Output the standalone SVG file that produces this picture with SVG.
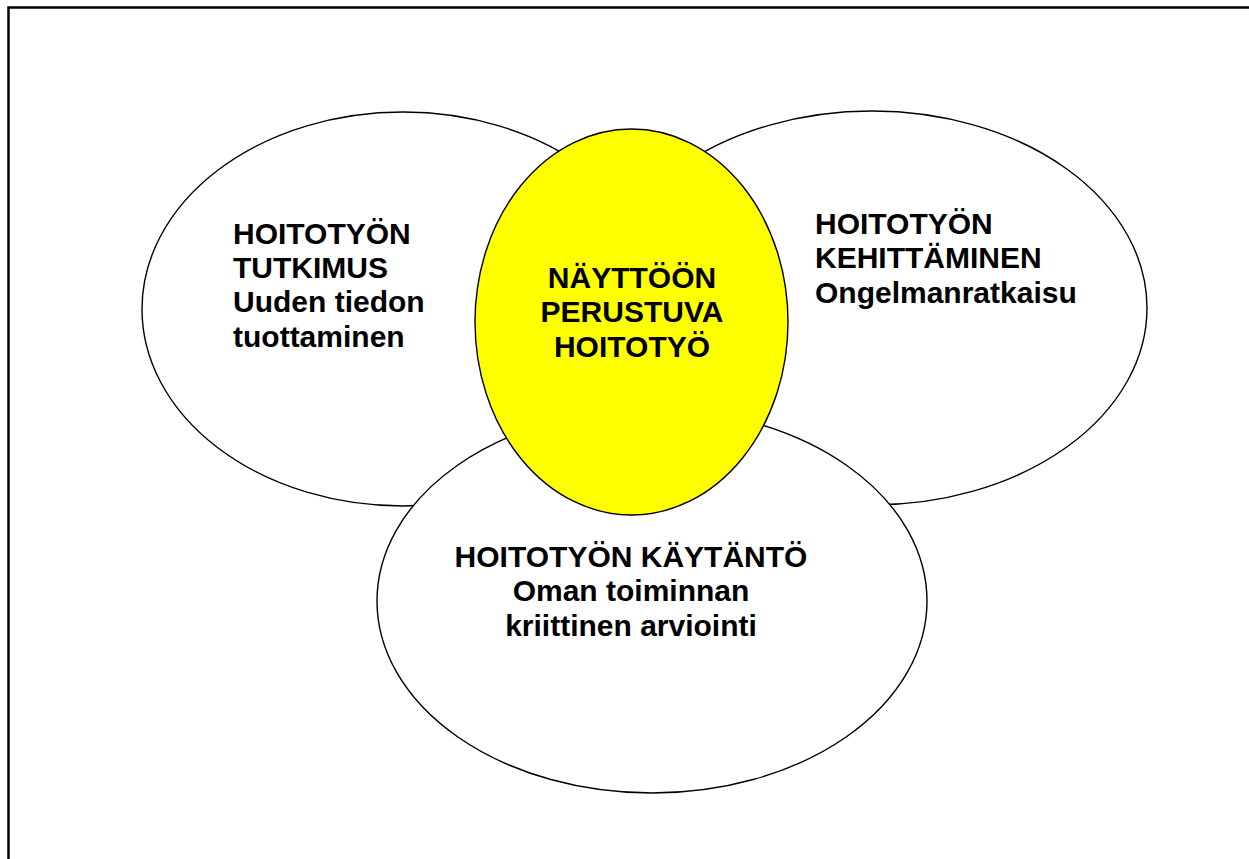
<svg xmlns="http://www.w3.org/2000/svg" width="1249" height="859" viewBox="0 0 1249 859">
<style>
.bg{fill:#ffffff}
.frame{fill:none;stroke:#000;stroke-width:2.5}
.el{fill:#ffffff;stroke:#000;stroke-width:1.4}
.core{fill:#ffff00;stroke:#000;stroke-width:1.4}
text{font-family:"Liberation Sans",Arial,sans-serif;font-weight:bold;font-size:30px;fill:#000}
.c{text-anchor:middle}
</style>
<rect class="bg" x="0" y="0" width="1249" height="859"/>
<path class="frame" d="M8.5 870 V7.5 H1260"/>
<g id="tutkimus">
<ellipse class="el" cx="403" cy="309" rx="261" ry="197"/>
<text x="233" y="244">HOITOTYÖN</text>
<text x="233" y="278">TUTKIMUS</text>
<text x="233" y="312">Uuden tiedon</text>
<text x="233" y="347">tuottaminen</text>
</g>
<g id="kehittaminen">
<ellipse class="el" cx="872" cy="308" rx="275" ry="197"/>
<text x="815" y="234">HOITOTYÖN</text>
<text x="815" y="268">KEHITTÄMINEN</text>
<text x="815" y="303">Ongelmanratkaisu</text>
</g>
<g id="kaytanto">
<ellipse class="el" cx="652" cy="601" rx="275" ry="192"/>
<text class="c" x="631" y="567">HOITOTYÖN KÄYTÄNTÖ</text>
<text class="c" x="631" y="601">Oman toiminnan</text>
<text class="c" x="631" y="636">kriittinen arviointi</text>
</g>
<g id="nayttoon">
<ellipse class="core" cx="631.5" cy="322" rx="156.5" ry="193"/>
<text class="c" x="632" y="288">NÄYTTÖÖN</text>
<text class="c" x="632" y="322">PERUSTUVA</text>
<text class="c" x="632" y="357">HOITOTYÖ</text>
</g>
<g id="connectors"></g>
</svg>
